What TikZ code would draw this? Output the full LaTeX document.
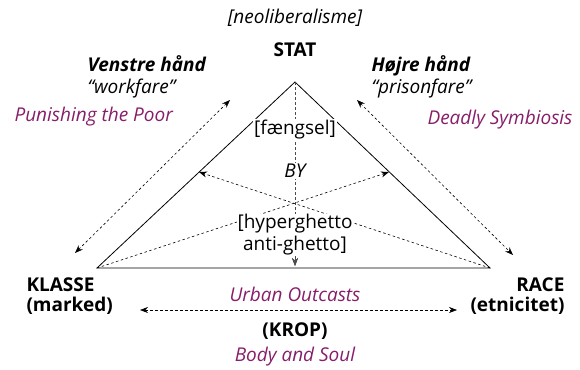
\documentclass[tikz,border=0pt]{standalone}
\usepackage{fontspec}
\setmainfont{Open Sans}
\usetikzlibrary{arrows.meta}
\definecolor{plum}{RGB}{135,30,105}
\tikzset{
  fine/.style={dash pattern=on 2.5pt off 2.5pt, line width=0.6pt, -{Stealth[length=8pt,width=6pt]}},
  both/.style={fine, {Stealth[length=8pt,width=6pt]}-{Stealth[length=8pt,width=6pt]}},
  book/.style={text=plum},
}
\begin{document}
\begin{tikzpicture}[x=1pt, y=-1pt, font=\fontsize{19}{22}\selectfont]
    \useasboundingbox (0,0) rectangle (580,369);

    % corners of the triangle
    \coordinate (top) at (295,82);
    \coordinate (bl) at (97,268);
    \coordinate (br) at (490,268);
    \coordinate (lmid) at (199,172);
    \coordinate (rmid) at (389,172);

    \draw[line width=0.8pt] (top) -- (bl) -- (br) -- cycle;

    % labels
    \node (neo) at (295,18) {\itshape [neoliberalisme]};
    \node (stat) at (295,50) {\bfseries STAT};
    \node[anchor=west, align=left] (venstre) at (84,77)
        {\bfseries\itshape Venstre hånd\\ \itshape “workfare”};
    \node[anchor=west, align=left] (hojre) at (368,77)
        {\bfseries\itshape Højre hånd\\ \itshape “prisonfare”};
    \node[book, anchor=west] (poor) at (11,117) {\itshape Punishing the Poor};
    \node[book, anchor=east] (deadly) at (576,120) {\itshape Deadly Symbiosis};
    \node[anchor=west, align=left, font=\fontsize{19}{20}\selectfont\bfseries] (klasse) at (23,296)
        {KLASSE\\(marked)};
    \node[anchor=east, align=right, font=\fontsize{19}{20}\selectfont\bfseries] (race) at (568,296)
        {RACE\\(etnicitet)};
    \node[book] (urban) at (295,294) {\itshape Urban Outcasts};
    \node (krop) at (295,331) {\bfseries (KROP)};
    \node[book] (body) at (295,357) {\itshape Body and Soul};

    % inner arrows
    \draw[fine, gray!60!black] (top) -- (295,266);
    \draw[fine] (bl) -- (rmid);
    \draw[fine] (br) -- (lmid);

    % inner labels over the dashes
    \node[fill=white, inner sep=1pt] (faengsel) at (295,130) {[fængsel]};
    \node[fill=white, inner sep=1pt] (by) at (295,171) {\itshape BY};
    \node[fill=white, inner sep=0.5pt, align=center] (ghetto) at (295,235)
        {[hyperghetto\\anti-ghetto]};
    \draw[fine, gray!60!black] (ghetto.south) -- (295,266);

    % outer arrows
    \coordinate (lhand) at (230,100);
    \coordinate (lfoot) at (75,253);
    \coordinate (rhand) at (357,100);
    \coordinate (rfoot) at (513,255);
    \coordinate (kleft) at (140,310);
    \coordinate (kright) at (457,310);
    \draw[both] (lhand) -- (lfoot);
    \draw[both] (rhand) -- (rfoot);
    \draw[both] (kleft) -- (kright);
\end{tikzpicture}
\end{document}
